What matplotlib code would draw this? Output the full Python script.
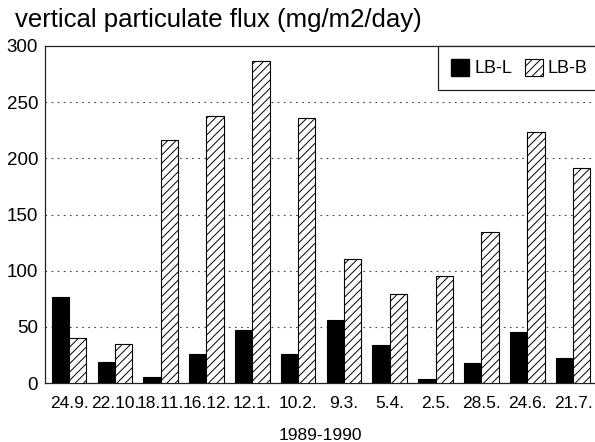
import matplotlib
matplotlib.use("Agg")
import matplotlib.pyplot as plt
import numpy as np
from matplotlib.patches import Patch

plt.rcParams['font.family'] = ['Liberation Sans', 'DejaVu Sans']
plt.rcParams['hatch.linewidth'] = 0.7

dates = ["24.9.", "22.10.", "18.11.", "16.12.", "12.1.", "10.2.", "9.3.",
         "5.4.", "2.5.", "28.5.", "24.6.", "21.7."]
lb_l = [77, 19, 5, 26, 47, 26, 56, 34, 4, 18, 45, 22]
lb_b = [40, 35, 216, 238, 287, 236, 110, 79, 95, 134, 223, 191]
y_ticks = [0, 50, 100, 150, 200, 250, 300]

fig = plt.figure(figsize=(5.95, 4.42), dpi=100)
ax = fig.add_axes([45/595, 59/442, 550/595, 337/442])

x = np.arange(len(dates))
w = 0.378
ax.bar(x - w/2, lb_l, w, color='black', edgecolor='black', linewidth=0.8, zorder=3)
ax.bar(x + w/2, lb_b, w, color='white', edgecolor='black', hatch='////',
       linewidth=0.8, zorder=3)

ax.set_xlim(-0.524, 11.48)
ax.set_ylim(0, 300)
ax.set_yticks(y_ticks)
ax.set_yticklabels([str(v) for v in y_ticks], fontsize=13.5)
ax.set_xticks(x)
ax.set_xticklabels(dates, fontsize=12.5)
ax.tick_params(axis='both', length=0)
ax.tick_params(axis='x', pad=9)
ax.tick_params(axis='y', pad=5)

for v in y_ticks[1:-1]:
    ax.axhline(v, color='#444444', linestyle=(0, (1.5, 4)), linewidth=0.8, zorder=1)

for s in ['left', 'bottom', 'top']:
    ax.spines[s].set_linewidth(0.9)
    ax.spines[s].set_color('#222222')
ax.spines['right'].set_visible(False)

fig.text(320/595, 1 - 436/442, "1989-1990", fontsize=12.5, ha='center', va='center')

fig.text(15/595, 1 - 20/442, "vertical particulate flux (mg/m2/day)",
         fontsize=18.5, va='center', ha='left')

handles = [Patch(facecolor='black', edgecolor='black'),
           Patch(facecolor='white', edgecolor='black', hatch='////', linewidth=0.8)]
leg = ax.legend(handles, ["LB-L", "LB-B"], ncol=2, loc='upper right',
                bbox_to_anchor=(1.01, 1.0), fontsize=13, frameon=True,
                fancybox=False, edgecolor='#222222', framealpha=1,
                handlelength=1.0, handleheight=1.1, handletextpad=0.3,
                columnspacing=0.7, borderpad=0.7, borderaxespad=0)
leg.get_frame().set_linewidth(0.9)

fig.savefig("out.png", dpi=100)
